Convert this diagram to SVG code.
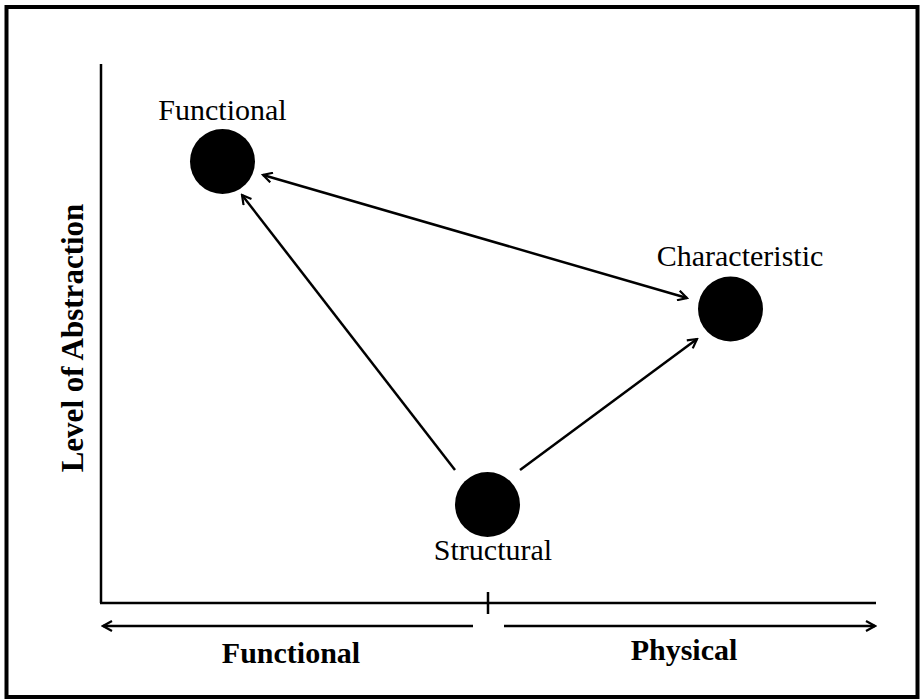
<svg xmlns="http://www.w3.org/2000/svg" width="924" height="700" viewBox="0 0 924 700">
<style>
.ln{stroke:#000;stroke-width:2.5;fill:none}
.lbl{font-family:"Liberation Serif","Times New Roman",serif;font-size:30px;fill:#000}
.b{font-weight:bold}
.node{fill:#000}
</style>
<defs>
<marker id="ah" viewBox="0 0 12 12" refX="10" refY="6" markerWidth="12" markerHeight="12" markerUnits="userSpaceOnUse" orient="auto-start-reverse">
<path d="M1,1 L10,6 L1,11" fill="none" stroke="#000" stroke-width="2.2"/>
</marker>
</defs>
<rect x="0" y="0" width="924" height="700" fill="#fff"/>
<rect x="6.5" y="7" width="911" height="690" fill="none" stroke="#000" stroke-width="4"/>
<g id="axes">
<line class="ln" x1="101" y1="64" x2="101" y2="603"/>
<line class="ln" x1="100" y1="603" x2="876" y2="603"/>
<line class="ln" x1="488" y1="592" x2="488" y2="614"/>
<line class="ln" x1="103" y1="626" x2="473" y2="626" marker-start="url(#ah)"/>
<line class="ln" x1="504" y1="626" x2="875" y2="626" marker-end="url(#ah)"/>
<text class="lbl b" x="291" y="663" text-anchor="middle">Functional</text>
<text class="lbl b" x="684" y="660" text-anchor="middle">Physical</text>
<text class="lbl b" transform="translate(83,338) rotate(-90)" text-anchor="middle" style="font-size:31px">Level of Abstraction</text>
</g>
<g id="connectors">
<line class="ln" x1="263" y1="175" x2="687" y2="298" marker-start="url(#ah)" marker-end="url(#ah)"/>
<line class="ln" x1="455" y1="470" x2="242" y2="195" marker-end="url(#ah)"/>
<line class="ln" x1="520" y1="470" x2="697" y2="339" marker-end="url(#ah)"/>
</g>
<g id="functional">
<circle class="node" cx="222.5" cy="161.5" r="32.5"/>
<text class="lbl" x="222.5" y="120" text-anchor="middle">Functional</text>
</g>
<g id="characteristic">
<circle class="node" cx="730.5" cy="309" r="32.5"/>
<text class="lbl" x="740" y="266" text-anchor="middle">Characteristic</text>
</g>
<g id="structural">
<circle class="node" cx="487.5" cy="504.5" r="32.5"/>
<text class="lbl" x="493" y="560" text-anchor="middle">Structural</text>
</g>
</svg>
